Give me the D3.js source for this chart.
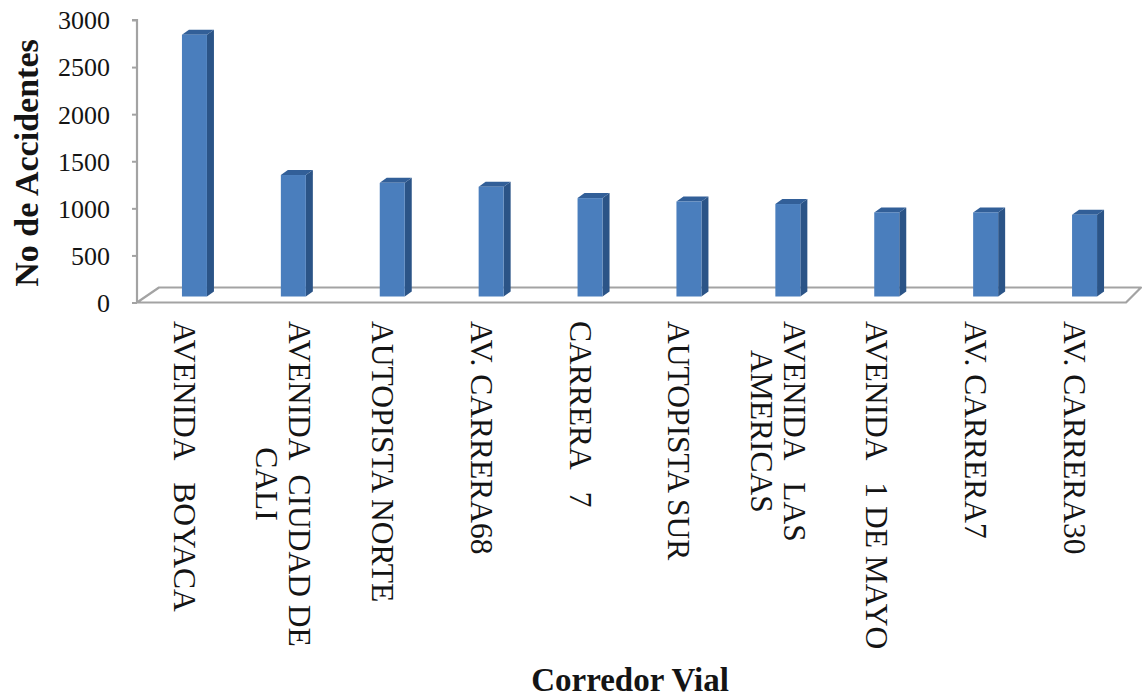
<!DOCTYPE html>
<html>
<head>
<meta charset="utf-8">
<script src="https://cdn.jsdelivr.net/npm/d3@7"></script>
<style>
  html, body { margin: 0; padding: 0; background: #ffffff; }
  svg { display: block; }
  svg text { font-family: "Liberation Serif", "Times New Roman", Times, "DejaVu Serif", serif !important; fill: #141414; }
</style>
</head>
<body>
<svg id="chart" width="1142" height="698"></svg>
<script>
// Accidents per road corridor
const categories = [
  "AVENIDA BOYACA", "AVENIDA CIUDAD DE CALI", "AUTOPISTA NORTE", "AV. CARRERA68",
  "CARRERA 7", "AUTOPISTA SUR", "AVENIDA LAS AMERICAS", "AVENIDA 1 DE MAYO",
  "AV. CARRERA7", "AV. CARRERA30"
];
const labelLines = [
  ["AVENIDA   BOYACA"], ["AVENIDA  CIUDAD DE", "CALI"], ["AUTOPISTA NORTE"], ["AV. CARRERA68"],
  ["CARRERA   7"], ["AUTOPISTA SUR"], ["AVENIDA   LAS", "AMERICAS"], ["AVENIDA   1 DE MAYO"],
  ["AV. CARRERA7"], ["AV. CARRERA30"]
];
const accidents = [2780, 1290, 1207, 1165, 1045, 1009, 982, 893, 893, 868];
const yTicks = [0, 500, 1000, 1500, 2000, 2500, 3000];

const svg = d3.select("#chart");

// Front plane of the plot
const plotLeft = 137, plotRight = 1126, plotTop = 20, plotBase = 302.5;
// Floor depth (front edge to back edge)
const floorDepth = { dxL: 22, dxR: 15, dy: -15 };
// Columns stand part way back on the floor
const barShift = { dx: 8, dy: -6 };
// Column side/top depth
const colDepth = { dx: 7, dy: -5 };
const barWidth = 25;

const x = d3.scaleBand().domain(categories).range([plotLeft, plotRight]);
const y = d3.scaleLinear().domain([0, 3000]).range([plotBase, plotTop]);

// Floor
const grey = "#a3a3a3";
const floor = [
  [plotLeft, plotBase], [plotLeft + floorDepth.dxL, plotBase + floorDepth.dy],
  [plotRight + floorDepth.dxR, plotBase + floorDepth.dy], [plotRight, plotBase]
];
svg.append("path")
  .attr("d", d3.line()(floor) + "Z")
  .attr("fill", "none")
  .attr("stroke", grey)
  .attr("stroke-width", 2.2)
  .attr("stroke-linejoin", "round");

// Value axis
const yAxis = svg.append("g")
  .attr("transform", `translate(${plotLeft},0)`)
  .call(d3.axisLeft(y).tickValues(yTicks).tickSize(5).tickPadding(22).tickFormat(d3.format("d")));
yAxis.attr("font-family", null).attr("font-size", null);
yAxis.select(".domain").attr("stroke", grey).attr("stroke-width", 2.2).attr("d", `M-5,${plotTop}H0V${plotBase}`);
yAxis.selectAll(".tick line").attr("stroke", grey).attr("stroke-width", 2);
yAxis.selectAll(".tick text")
  .attr("font-size", 26)
  .attr("fill", "#141414")
  .attr("dy", "0.34em");

// 3D columns
const bars = svg.append("g");
categories.forEach((c, i) => {
  const v = accidents[i];
  const x0 = x(c) + x.bandwidth() / 2 - barWidth / 2 + barShift.dx;
  const x1 = x0 + barWidth;
  const yt = y(v) + barShift.dy;
  const yb = y(0) + barShift.dy;
  const g = bars.append("g");
  // side face
  g.append("path")
    .attr("d", d3.line()([[x1, yt], [x1 + colDepth.dx, yt + colDepth.dy], [x1 + colDepth.dx, yb + colDepth.dy], [x1, yb]]) + "Z")
    .attr("fill", "#2b5487");
  // top face
  g.append("path")
    .attr("d", d3.line()([[x0, yt], [x0 + colDepth.dx, yt + colDepth.dy], [x1 + colDepth.dx, yt + colDepth.dy], [x1, yt]]) + "Z")
    .attr("fill", "#325f98");
  // front face
  g.append("rect")
    .attr("x", x0).attr("y", yt)
    .attr("width", barWidth).attr("height", yb - yt)
    .attr("fill", "#4a7ebd");
});

// Category labels, rotated to read downward
const labelTop = 321, fs = 31.5, lineGap = 33;
categories.forEach((c, i) => {
  const lines = labelLines[i];
  const xc = x(c) + x.bandwidth() / 2 - 1.5;
  const g = svg.append("g").attr("transform", `translate(${xc},${labelTop}) rotate(90)`);
  const texts = lines.map((t, k) => g.append("text")
    .attr("font-size", fs)
    .style("white-space", "pre")
    .attr("y", (k - (lines.length - 1) / 2) * lineGap)
    .attr("dy", "0.35em")
    .text(t));
  const maxLen = d3.max(texts, t => t.node().getComputedTextLength());
  texts.forEach(t => t.attr("x", maxLen / 2).attr("text-anchor", "middle"));
});

// Axis titles
svg.append("text")
  .attr("transform", "translate(26,163) rotate(-90)")
  .attr("text-anchor", "middle")
  .attr("dy", "0.35em")
  .attr("font-size", 34)
  .attr("font-weight", "bold")
  .text("No de Accidentes");

svg.append("text")
  .attr("x", 630).attr("y", 691)
  .attr("text-anchor", "middle")
  .attr("font-size", 33)
  .attr("font-weight", "bold")
  .text("Corredor Vial");
</script>
</body>
</html>
